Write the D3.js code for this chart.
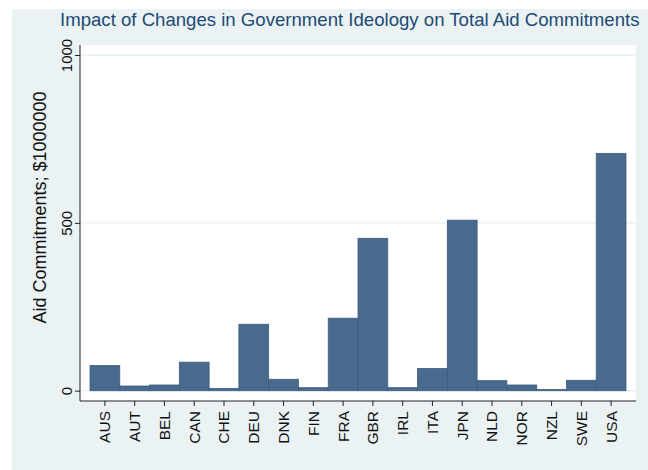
<!DOCTYPE html>
<html>
<head>
<meta charset="utf-8">
<script src="https://cdn.jsdelivr.net/npm/d3@7"></script>
<style>
  html, body { margin: 0; padding: 0; background: #ffffff; }
  svg { display: block; }
  text { font-family: "Liberation Sans", Arial, sans-serif; }
</style>
</head>
<body>
<svg id="chart" width="648" height="470"></svg>
<script>
const countries = ["AUS","AUT","BEL","CAN","CHE","DEU","DNK","FIN","FRA","GBR","IRL","ITA","JPN","NLD","NOR","NZL","SWE","USA"];
const aidValues = [75, 14, 17, 85, 7, 198, 34, 9, 216, 454, 9, 66, 508, 30, 17, 4, 31, 707];
const yTicks = [0, 500, 1000];
const titleText = "Impact of Changes in Government Ideology on Total Aid Commitments";
const yAxisTitle = "Aid Commitments; $1000000";

const svg = d3.select("#chart");
const W = 648, H = 470;

// graph region background
svg.append("rect").attr("x", 12).attr("y", 9).attr("width", W - 12).attr("height", H - 9)
  .attr("fill", "#eaf2f3");

const plot = { left: 80, right: 636, top: 45, bottom: 401 };

svg.append("rect").attr("x", plot.left).attr("y", plot.top)
  .attr("width", plot.right - plot.left).attr("height", plot.bottom - plot.top)
  .attr("fill", "#ffffff");

const x = d3.scaleBand().domain(countries).range([90, 626]).padding(0);
const y = d3.scaleLinear().domain([0, 1000]).range([390.7, 55]);

// gridlines
svg.append("g").selectAll("line").data(yTicks).join("line")
  .attr("x1", plot.left).attr("x2", plot.right)
  .attr("y1", d => y(d)).attr("y2", d => y(d))
  .attr("stroke", "#e6f0f2").attr("stroke-width", 1.4);

// bars
svg.append("g").selectAll("rect").data(countries).join("rect")
  .attr("x", d => x(d))
  .attr("width", x.bandwidth())
  .attr("y", (d, i) => y(aidValues[i]))
  .attr("height", (d, i) => y(0) - y(aidValues[i]))
  .attr("fill", "#486a8c")
  .attr("stroke", "#3d5d7f")
  .attr("stroke-width", 0.8);

// y axis
const yAxis = d3.axisLeft(y).tickValues(yTicks).tickSize(5).tickPadding(3).tickFormat(d3.format("d"));
const gy = svg.append("g").attr("transform", `translate(${plot.left},0)`).call(yAxis);
gy.select(".domain").attr("d", `M0,${plot.top}V${plot.bottom}`).attr("stroke", "#222");
gy.selectAll(".tick line").attr("stroke", "#222");
gy.selectAll(".tick text")
  .attr("font-size", 15).attr("fill", "#111")
  .attr("transform", "rotate(-90)")
  .attr("x", 0)
  .attr("y", -8)
  .attr("dy", 0)
  .attr("text-anchor", "middle");

// x axis
const xAxis = d3.axisBottom(x).tickSize(5).tickPadding(4);
const gx = svg.append("g").attr("transform", `translate(0,${plot.bottom})`).call(xAxis);
gx.select(".domain").attr("d", `M${plot.left},0H${plot.right}`).attr("stroke", "#222");
gx.selectAll(".tick line").attr("stroke", "#222");
gx.selectAll(".tick text")
  .attr("font-size", 15.5).attr("fill", "#111")
  .attr("transform", "rotate(-90)")
  .attr("text-anchor", "end")
  .attr("x", -10).attr("y", 0).attr("dy", "0.35em");

// y axis title
svg.append("text")
  .attr("transform", `translate(46,207.5) rotate(-90)`)
  .attr("text-anchor", "middle")
  .attr("font-size", 18)
  .attr("fill", "#111")
  .text(yAxisTitle);

// title
svg.append("text")
  .attr("x", 60).attr("y", 26)
  .attr("font-size", 18.6)
  .attr("fill", "#1e4a73")
  .text(titleText);
</script>
</body>
</html>
